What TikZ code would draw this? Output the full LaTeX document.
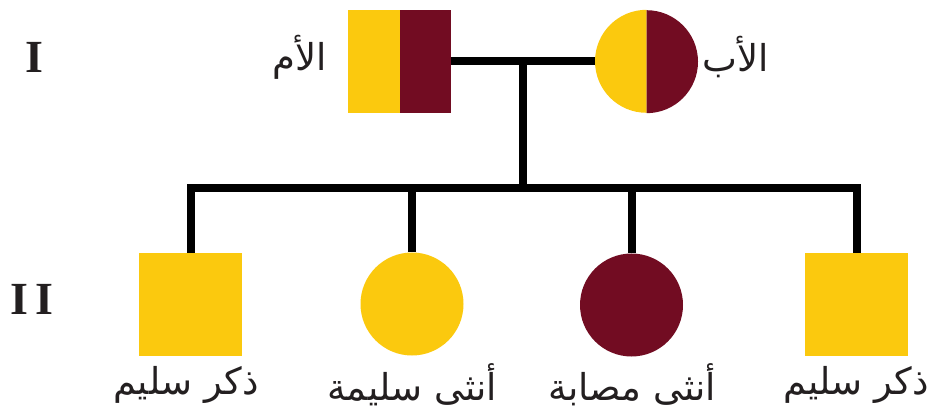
\documentclass[tikz,border=0pt]{standalone}
\usepackage{fontspec}
\TeXXeTstate=1
\newfontfamily\arabicfont[Script=Arabic]{DejaVu Sans}
\newfontfamily\romfont{Liberation Serif}
\definecolor{gold}{HTML}{FBC90E}
\definecolor{maroon}{HTML}{720C22}
\definecolor{ink}{HTML}{231F20}
\tikzset{
  x=1pt,y=-1pt,
  link/.style={line width=8pt,draw=black},
  sq/.style={rectangle,minimum size=103pt,inner sep=0pt,fill=gold},
  circ/.style={circle,minimum size=103pt,inner sep=0pt},
  lab/.style={text=ink,font=\arabicfont\fontsize{37}{40}\selectfont,inner sep=0pt},
  gen/.style={text=ink,font=\romfont\bfseries\fontsize{46}{50}\selectfont,inner sep=0pt}
}
\begin{document}
\begin{tikzpicture}
\useasboundingbox (0,0) rectangle (933,411);
% parents
\node[sq,fill=none] (mom) at (399.5,61.5) {};
\fill[gold] (mom.north west) rectangle (mom.south);
\fill[maroon] (mom.north) rectangle (mom.south east);
\node[circ] (dad) at (646.5,61.5) {};
\fill[gold] (dad.north) arc[start angle=90,end angle=270,radius=51.5pt] -- cycle;
\fill[maroon] (dad.south) arc[start angle=-90,end angle=90,radius=51.5pt] -- cycle;
\coordinate (mid) at (523,61.5);
\coordinate (sib) at (523,188);
\draw[link] (mom.east) -- (dad.west);
\draw[link] (mid) -- (sib);
% children
\node[sq] (c1) at (190.5,304.5) {};
\node[circ,fill=gold] (c2) at (412,304) {};
\node[circ,fill=maroon] (c3) at (631.5,305) {};
\node[sq] (c4) at (856.5,304.5) {};
\draw[link,line cap=rect] (sib -| c1.north) -- (sib -| c4.north);
\foreach \c in {c1,c2,c3,c4}{
  \draw[link] (sib -| \c.north) -- (\c.north);
}
% labels
\node[lab] (lm) at (300,57) {\beginR الأم\endR};
\node[lab] (lf) at (736,57) {\beginR الأب\endR};
\node[lab] (l1) at (186,385) {\beginR ذكر سليم\endR};
\node[lab] (l2) at (412,385) {\beginR أنثى سليمة\endR};
\node[lab] (l3) at (632,385) {\beginR أنثى مصابة\endR};
\node[lab] (l4) at (856,385) {\beginR ذكر سليم\endR};
\node[gen] (g1) at (34,57) {I};
\node[gen] (g2) at (32,299) {I\kern8pt I};
\end{tikzpicture}
\end{document}
